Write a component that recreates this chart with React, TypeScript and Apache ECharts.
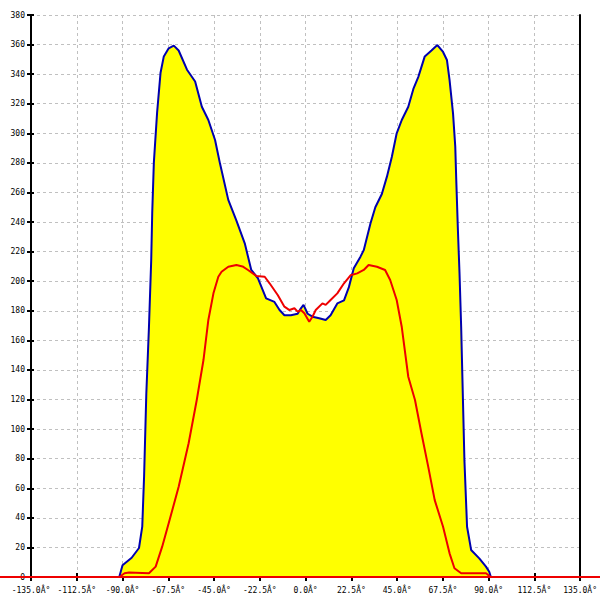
import React, { useEffect, useRef } from "react";
import * as echarts from "echarts";

const blueAngles = [
  -91.6, -90, -85.5, -81.9, -80.3, -79.4, -78.3, -77.0, -75.9, -75.4, -74.6, -73.0, -71.3, -69.7, -67.3, -64.8,
  -62.4, -58.3, -54.3, -51.0, -47.8, -44.5, -42.1, -38.0, -34.0, -29.9, -26.7, -23.4, -19.4, -15.3, -12.8,
  -10.4, -7.2, -3.9, -2.3, -1.0, 1.0, 3.4, 6.7, 9.9, 12.3, 15.6, 18.9, 21.3, 23.7, 27.0, 28.6, 31.9, 34.3,
  37.5, 40.0, 42.4, 44.8, 47.3, 50.5, 53.0, 55.4, 58.6, 61.9, 64.8, 67.6, 69.5, 70.8, 72.5, 73.6, 74.1, 74.9,
  75.7, 76.5, 77.3, 78.1, 79.4, 81.4, 85.4, 88.7, 90.3, 91.1,
];
const blueValues = [
  0, 8, 13, 19.6, 34, 68, 124, 169, 214, 246, 280, 314, 341, 352, 357.5, 359.3,
  356, 343, 335, 318, 309, 295.5, 279.7, 255, 241, 225.6, 207.6, 202, 188.4, 186, 180.5,
  177, 177, 178, 181.7, 184, 178, 176, 175, 173.8, 177, 185, 187, 196, 208.7, 216.6, 221, 239, 250,
  259, 270.7, 284, 300, 309, 318, 330, 338, 352, 356, 359.7, 355, 349.6, 336, 313.5, 291, 268, 234.6,
  205, 169, 124, 79, 34, 18.3, 12.6, 7, 3.6, 0,
];

const redAngles = [
  -135, -91.6, -89, -86.8, -77.0, -73.7, -70.5, -67.3, -62.4, -57.5, -53.5, -50.2, -47.8, -45.3, -42.9,
  -41.3, -38.0, -34.0, -31, -28.3, -24.2, -20.1, -17.7, -13.7, -10.4, -7.9, -5.5, -3.9, -2.3, -0.6, 1.8,
  3.4, 5.0, 8.3, 9.9, 12.3, 15.6, 18.9, 22.1, 25.4, 28.6, 31.0, 35.1, 39.1, 41.6, 44.8, 47.3, 50.5, 53.8,
  57.0, 60.3, 63.5, 67.6, 70.8, 73.2, 76.5, 88.7, 91.1, 135,
];
const redValues = [
  0, 0, 2.5, 3, 2.5, 7, 20.5, 36.3, 61, 90.4, 119.7, 146.7, 173.8, 191.8, 203,
  206.4, 209.8, 211, 210, 207.6, 203.5, 203, 198.6, 190.7, 182.8, 180.5, 181.7, 179.4, 180.5, 178.3, 172.6,
  176, 180.5, 185, 184, 187.3, 191.8, 198.6, 204, 205.3, 207.6, 211, 209.8, 207.6, 200.8, 187.3, 169, 135.4, 119.7,
  97, 74.6, 52, 34, 16, 5.9, 2.5, 2.5, 0, 0,
];

const X_MIN = -135;
const X_MAX = 135;
const X_STEP = 22.5;
const Y_MIN = 0;
const Y_MAX = 380;
const Y_STEP = 20;

const FONT = "DejaVu Sans Mono";
const RED = "#ee0000";

export default function App() {
  const ref = useRef<HTMLDivElement>(null);
  useEffect(() => {
    if (!ref.current) return;
    const chart = echarts.init(ref.current, undefined, { renderer: "svg" });
    const blueData = blueAngles.map((a, i) => [a, blueValues[i]]);
    const redData = redAngles.map((a, i) => [a, redValues[i]]);
    const xLabel = (v: number) => v.toFixed(1) + "Â°";
    chart.setOption({
      animation: false,
      backgroundColor: "#ffffff",
      grid: { left: 31, right: 15, top: 15, bottom: 23, containLabel: false },
      xAxis: [
        {
          type: "value",
          min: X_MIN,
          max: X_MAX,
          interval: X_STEP,
          position: "bottom",
          axisLine: { show: true, onZero: false, lineStyle: { color: "#000", width: 2 } },
          axisTick: { show: true, inside: true, length: 4, lineStyle: { color: "#000", width: 2 } },
          axisLabel: {
            formatter: xLabel,
            fontFamily: FONT,
            fontSize: 8,
            color: "#000",
            margin: 9,
            showMinLabel: true,
            showMaxLabel: true,
          },
          splitLine: { show: true, lineStyle: { color: "#c0c0c0", type: [3, 3], width: 1 } },
        },
        {
          type: "value",
          min: X_MIN,
          max: X_MAX,
          interval: X_STEP,
          position: "bottom",
          axisLine: { show: false, onZero: false },
          axisTick: { show: true, inside: false, length: 4, lineStyle: { color: "#000", width: 2 } },
          axisLabel: { show: false },
          splitLine: { show: false },
        },
      ],
      yAxis: [
        {
          type: "value",
          min: Y_MIN,
          max: Y_MAX,
          interval: Y_STEP,
          position: "left",
          axisLine: { show: true, onZero: false, lineStyle: { color: "#000", width: 2 } },
          axisTick: { show: true, inside: false, length: 4, lineStyle: { color: "#000", width: 2 } },
          axisLabel: { fontFamily: FONT, fontSize: 8, color: "#000", margin: 6 },
          splitLine: { show: true, lineStyle: { color: "#c0c0c0", type: [3, 3], width: 1 } },
        },
        {
          type: "value",
          min: Y_MIN,
          max: Y_MAX,
          interval: Y_STEP,
          position: "left",
          axisLine: { show: false, onZero: false },
          axisTick: { show: true, inside: true, length: 3, lineStyle: { color: "#000", width: 2 } },
          axisLabel: { show: false },
          splitLine: { show: false },
        },
        {
          type: "value",
          min: Y_MIN,
          max: Y_MAX,
          interval: Y_STEP,
          position: "right",
          axisLine: { show: true, onZero: false, lineStyle: { color: "#000", width: 2 } },
          axisTick: { show: false },
          axisLabel: { show: false },
          splitLine: { show: false },
        },
      ],
      series: [
        {
          type: "line",
          xAxisIndex: 0,
          yAxisIndex: 0,
          data: blueData,
          showSymbol: false,
          symbol: "none",
          lineStyle: { color: "#0000b0", width: 2 },
          areaStyle: { color: "#ffff00", opacity: 1, origin: "start" },
          z: 3,
        },
        {
          type: "line",
          xAxisIndex: 0,
          yAxisIndex: 0,
          data: redData,
          showSymbol: false,
          symbol: "none",
          clip: false,
          lineStyle: { color: RED, width: 2 },
          z: 10,
        },
      ],
    });
    // Extend the zero baseline of the red series across the full page width
    const zeroY = chart.convertToPixel({ yAxisIndex: 0 }, 0) as number;
    const width = chart.getWidth();
    chart.setOption({
      graphic: [
        {
          type: "line",
          shape: { x1: 0, y1: zeroY, x2: width, y2: zeroY },
          style: { stroke: RED, lineWidth: 2 },
          z: 20,
        },
      ],
    });
    return () => chart.dispose();
  }, []);
  return (
    <div
      ref={ref}
      style={{ position: "fixed", left: 0, top: 0, width: 600, height: 600, background: "#fff" }}
    />
  );
}
